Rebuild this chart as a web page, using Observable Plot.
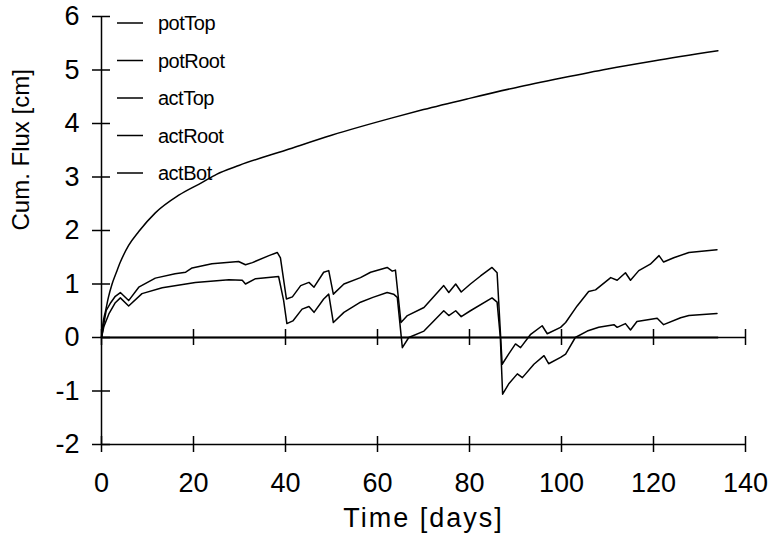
<!DOCTYPE html>
<html><head><meta charset="utf-8">
<script src="https://cdn.jsdelivr.net/npm/d3@7"></script>
<script src="https://cdn.jsdelivr.net/npm/@observablehq/plot@0.6"></script>
<style>body{margin:0;background:#fff;}</style>
</head><body><div id="chart"></div>
<script>
const seriesNames = ["potTop", "potRoot", "actTop", "actRoot", "actBot"];

const potTopDays = [0, 0.3, 0.9, 1.5, 2.3, 3.2, 4.1, 5.9, 8.1, 11.7, 16.8, 21.9, 25, 30, 40, 50, 63, 70, 80, 90, 100, 110, 120, 134];
const potTop     = [0, 0.25, 0.5, 0.75, 1.0, 1.21, 1.41, 1.72, 1.98, 2.33, 2.66, 2.9, 3.05, 3.22, 3.5, 3.78, 4.1, 4.26, 4.47, 4.67, 4.85, 5.02, 5.17, 5.36];

const potRootDays = [0, 134];
const potRoot     = [0, 0];

const actTopDays = [0, 1, 2, 3, 4.1, 5.9, 8.1, 11.7, 16, 18.3, 19.7, 24, 29.8, 31.3, 32.8, 36.4, 38.2, 38.9, 40.2, 41.5, 43.3, 45.1, 46.2, 48.3, 49.4, 50.4, 52.7, 56.3, 58.5, 62.1, 63.2, 63.9, 65.1, 66.5, 70.1, 74.4, 75.5, 77, 78.2, 80.2, 82.4, 84.9, 86, 87.1, 88.5, 90, 91.1, 93.3, 95.8, 96.9, 99.8, 100.9, 103.4, 105.9, 107.4, 110.7, 112.1, 113.9, 115, 116.8, 119.3, 121.2, 122.2, 124.4, 127.7, 133.8];
const actTop     = [0, 0.5, 0.65, 0.77, 0.84, 0.69, 0.94, 1.11, 1.19, 1.22, 1.3, 1.38, 1.42, 1.36, 1.40, 1.53, 1.59, 1.49, 0.72, 0.76, 0.97, 1.03, 0.94, 1.22, 1.25, 0.81, 1.0, 1.12, 1.22, 1.31, 1.24, 1.26, 0.28, 0.41, 0.56, 0.97, 0.84, 1.0, 0.85, 1.0, 1.15, 1.31, 1.21, -0.5, -0.31, -0.12, -0.19, 0.06, 0.22, 0.07, 0.19, 0.28, 0.59, 0.86, 0.89, 1.12, 1.07, 1.21, 1.07, 1.25, 1.37, 1.53, 1.41, 1.49, 1.59, 1.64];

const actRootDays = [0, 134];
const actRoot     = [0, 0];

const actBotDays = [0, 0.5, 1.6, 3, 4.1, 5.9, 8.8, 13.2, 20.4, 27.7, 30.6, 31.3, 33.5, 38.5, 39.6, 40.3, 41.6, 43.6, 45.1, 46.2, 48.3, 49.4, 50.4, 52.7, 56.3, 59, 62.1, 63.5, 64.3, 65.4, 66.8, 70.1, 74.4, 75.5, 77, 78.2, 80.2, 84.9, 86, 86.7, 87.2, 88.5, 90.4, 91.5, 94, 96.2, 97.2, 99.8, 100.9, 103, 105.6, 108.1, 111.4, 112.1, 113.9, 115, 116.4, 120.8, 122.2, 125.9, 127.7, 133.8];
const actBot     = [0, 0.2, 0.44, 0.65, 0.74, 0.59, 0.82, 0.93, 1.03, 1.08, 1.07, 1.0, 1.1, 1.14, 0.69, 0.26, 0.31, 0.53, 0.58, 0.47, 0.72, 0.81, 0.28, 0.47, 0.66, 0.75, 0.84, 0.81, 0.75, -0.19, 0, 0.12, 0.5, 0.41, 0.5, 0.39, 0.5, 0.74, 0.66, 0, -1.06, -0.87, -0.68, -0.75, -0.5, -0.34, -0.49, -0.37, -0.31, 0, 0.12, 0.19, 0.24, 0.19, 0.26, 0.14, 0.3, 0.36, 0.24, 0.37, 0.41, 0.45];

const xTicks = [0, 20, 40, 60, 80, 100, 120, 140];
const yTicks = [-2, -1, 0, 1, 2, 3, 4, 5, 6];
const xTitle = "Time [days]";
const yTitle = "Cum. Flux [cm]";

function rows(days, vals, name) { return days.map((d, i) => ({day: d, value: vals[i], series: name})); }
const potData = rows(potTopDays, potTop, "potTop");
const data = [
  ...rows(potRootDays, potRoot, "potRoot"),
  ...rows(actTopDays, actTop, "actTop"),
  ...rows(actRootDays, actRoot, "actRoot"),
  ...rows(actBotDays, actBot, "actBot")
];
const xTickPts = xTicks.flatMap(t => [{x: t, y: 0}, {x: t, y: -2}]);

const FONT = "'Liberation Sans', Arial, sans-serif";
const legend = () => {
  const g = d3.create("svg:g");
  seriesNames.forEach((n, i) => {
    const y = 23 + i * 37.5;
    g.append("line").attr("x1", 117).attr("x2", 143).attr("y1", y).attr("y2", y)
      .attr("stroke", "#000").attr("stroke-width", 1.5);
    g.append("text").attr("x", 158).attr("y", y).attr("dy", "0.35em")
      .attr("text-anchor", "start")
      .style("font-size", "20px").style("font-family", FONT)
      .attr("letter-spacing", "-0.5").attr("fill", "#000").text(n);
  });
  return g.node();
};

const chart = Plot.plot({
  width: 769, height: 546,
  marginLeft: 101, marginRight: 24, marginTop: 16, marginBottom: 102,
  x: {domain: [0, 140], axis: null},
  y: {domain: [-2, 6], axis: null},
  style: {fontFamily: FONT, background: "#fff", color: "#000"},
  marks: [
    Plot.ruleX([0], {y1: -2, y2: 6, stroke: "#000", strokeWidth: 1.5}),
    Plot.ruleY([0, -2], {x1: 0, x2: 140, stroke: "#000", strokeWidth: 1.5}),
    Plot.ruleX(xTickPts, {x: "x", y1: "y", y2: "y", insetTop: -8, insetBottom: -8, stroke: "#000", strokeWidth: 1.5}),
    Plot.ruleY(yTicks, {y: d => d, x1: 0, x2: 0, insetLeft: -9, insetRight: -9, stroke: "#000", strokeWidth: 1.5}),
    Plot.text(yTicks, {x: 0, y: d => d, text: d => String(d), textAnchor: "end", dx: -22, fontSize: 27, fill: "#000"}),
    Plot.text(xTicks, {x: d => d, y: -2, text: d => String(d), dy: 39, fontSize: 27, fill: "#000"}),
    Plot.text([xTitle], {frameAnchor: "bottom", text: d => d, dy: 82, fontSize: 27, fill: "#000"}),
    Plot.text([yTitle], {frameAnchor: "left", text: d => d, rotate: -90, dx: -80, fontSize: 24, fill: "#000"}),
    Plot.line(potData, {x: "day", y: "value", stroke: "#000", strokeWidth: 1.5, curve: "monotone-x"}),
    Plot.line(data, {x: "day", y: "value", z: "series", stroke: "#000", strokeWidth: 1.5, curve: "linear"}),
    legend
  ]
});
d3.select(chart).selectAll("text").filter(function() { return this.textContent === xTitle; })
  .attr("letter-spacing", "2");
document.getElementById("chart").appendChild(chart);
</script>
</body></html>
